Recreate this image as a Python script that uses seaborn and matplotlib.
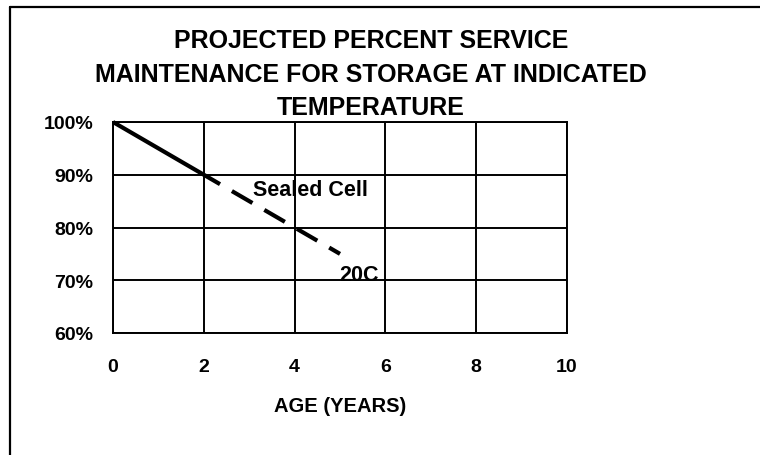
import matplotlib
matplotlib.use("Agg")
import matplotlib.pyplot as plt
import seaborn as sns
import pandas as pd
from matplotlib.lines import Line2D

# Werte
age_solid = [0, 2]
pct_solid = [100, 90]
age_dashed = [2, 3, 4, 5]
pct_dashed = [90, 85, 80, 75]

x_ticks = [0, 2, 4, 6, 8, 10]
y_ticks = [60, 70, 80, 90, 100]
y_labels = ["60%", "70%", "80%", "90%", "100%"]

title_lines = ["PROJECTED PERCENT SERVICE",
               "MAINTENANCE FOR STORAGE AT INDICATED",
               "TEMPERATURE"]

sns.set_theme(style="white")
plt.rcParams['font.family'] = ['Liberation Sans', 'DejaVu Sans']
plt.rcParams['font.weight'] = 'bold'

fig = plt.figure(figsize=(7.6, 4.56), dpi=100)
ax = fig.add_axes([113 / 760, 1 - 334 / 456, (567 - 113) / 760, (334 - 123) / 456])

df_solid = pd.DataFrame({'age': age_solid, 'pct': pct_solid})
df_dashed = pd.DataFrame({'age': age_dashed, 'pct': pct_dashed})

sns.lineplot(data=df_solid, x='age', y='pct', ax=ax, color='black', linewidth=3.0,
             solid_capstyle='butt', clip_on=False, zorder=5)
sns.lineplot(data=df_dashed, x='age', y='pct', ax=ax, color='black', linewidth=3.0,
             linestyle=(1.2, (5.7, 3.3)), dash_capstyle='butt', zorder=5)

ax.set_xlim(0, 10)
ax.set_ylim(60, 100)
ax.set_xticks(x_ticks)
ax.set_xticklabels([str(t) for t in x_ticks])
ax.set_yticks(y_ticks)
ax.set_yticklabels(y_labels)

ax.grid(True, color='black', linewidth=1.4)
for sp in ax.spines.values():
    sp.set_visible(True)
    sp.set_color('black')
    sp.set_linewidth(1.4)

ax.tick_params(axis='both', which='major', direction='out', color='black',
               width=1.4, labelsize=14, labelcolor='black')
ax.tick_params(axis='x', length=6, pad=12)
ax.tick_params(axis='y', length=6, pad=8)
for lbl in ax.get_xticklabels() + ax.get_yticklabels():
    lbl.set_fontweight('bold')

ax.set_xlabel("AGE (YEARS)", fontsize=14.5, fontweight='bold', labelpad=15, color='black')
ax.set_ylabel("")

# Beschriftungen im Diagramm
ax.text(3.08, 86.2, "Sealed Cell", fontsize=15.5, fontweight='bold',
        ha='left', va='baseline', color='black')
ax.text(4.98, 70.0, "20C", fontsize=15.5, fontweight='bold',
        ha='left', va='baseline', color='black')

# Titel in drei Zeilen
for txt, base in zip(title_lines, [48, 82, 115]):
    fig.text(371 / 760, 1 - base / 456, txt, fontsize=18, fontweight='bold',
             ha='center', va='baseline', color='black')

# Rahmen oben und links
fig.add_artist(Line2D([10 / 760, 1], [1 - 8 / 456, 1 - 8 / 456], color='black', linewidth=1.6))
fig.add_artist(Line2D([10 / 760, 10 / 760], [0, 1 - 8 / 456], color='black', linewidth=1.6))

fig.savefig("out.png", dpi=100, facecolor='white')
